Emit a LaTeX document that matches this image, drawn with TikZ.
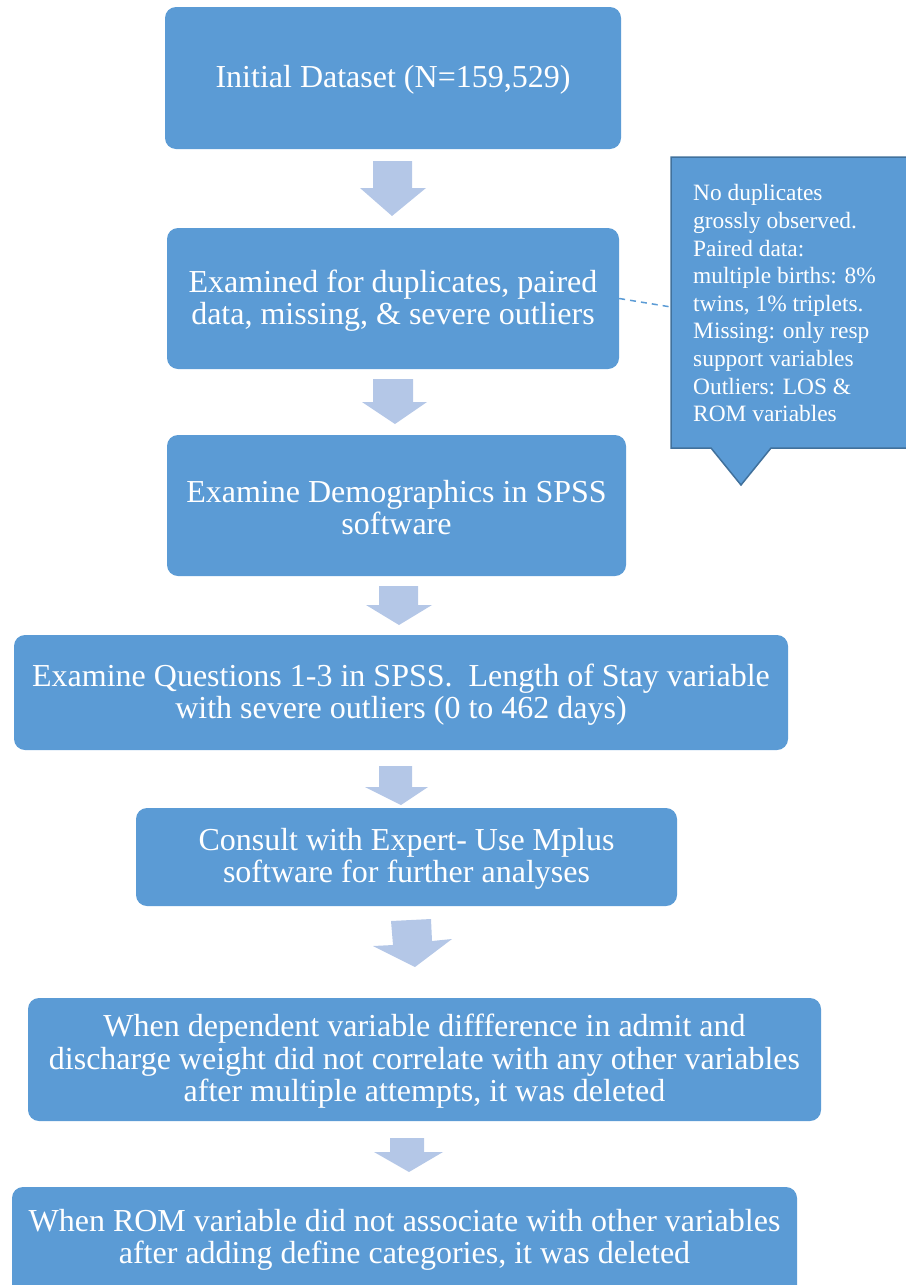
\documentclass[tikz,border=0pt]{standalone}
\usepackage{fontspec}
\setmainfont{Liberation Serif}
\definecolor{boxblue}{HTML}{5B9BD5}
\definecolor{arrowblue}{HTML}{B4C7E7}
\definecolor{edgeblue}{HTML}{41719C}
\begin{document}
\begin{tikzpicture}[x=1pt,y=-1pt,
  flowbox/.style={fill=boxblue, draw=none, rounded corners=11pt, inner sep=0pt},
  flowtext/.style={text=white, align=center, inner sep=0pt, yshift=-2pt,
    font=\fontsize{32}{32.5}\selectfont},
  blockarrow/.style={fill=arrowblue, draw=none},
  calloutshape/.style={fill=boxblue, draw=edgeblue, line width=1.5pt},
  leader/.style={draw=boxblue, line width=1.5pt, dash pattern=on 6pt off 5pt}]
\useasboundingbox (0,0) rectangle (905,1285);

% boxes
\node[flowbox, minimum width=456pt, minimum height=142pt] (b1) at (393,78) {};
\node[flowtext] (t1) at (b1.center) {Initial Dataset (N=159,529)};
\node[flowbox, minimum width=452pt, minimum height=141pt] (b2) at (393,298.5) {};
\node[flowtext] (t2) at (b2.center) {Examined for duplicates, paired\\data, missing, \& severe outliers};
\node[flowbox, minimum width=459pt, minimum height=141pt] (b3) at (396.5,505.5) {};
\node[flowtext] (t3) at (b3.center) {Examine Demographics in SPSS\\software};
\node[flowbox, minimum width=774pt, minimum height=115pt] (b4) at (401,692.5) {};
\node[flowtext] (t4) at (b4.center) {Examine Questions 1-3 in SPSS.\ \ Length of Stay variable\\with severe outliers (0 to 462 days)};
\node[flowbox, minimum width=541pt, minimum height=98pt] (b5) at (406.5,857) {};
\node[flowtext] (t5) at (b5.center) {Consult with Expert- Use Mplus\\software for further analyses};
\node[flowbox, minimum width=793pt, minimum height=123pt] (b6) at (424.5,1059.5) {};
\node[flowtext] (t6) at (b6.center) {When dependent variable diffference in admit and\\discharge weight did not correlate with any other variables\\after multiple attempts, it was deleted};
\node[flowbox, minimum width=785pt, minimum height=110pt] (b7) at (404.5,1242) {};
\node[flowtext] (t7) at (404.5,1238) {When ROM variable did not associate with other variables\\after adding define categories, it was deleted};

% block arrows
\fill[blockarrow] (373,161) -- (412,161) -- (412,188) -- (426,188) -- (392,216) -- (360,188) -- (373,188) -- cycle;
\fill[blockarrow] (373,379) -- (413,379) -- (413,402) -- (427,402) -- (395,424) -- (362,402) -- (373,402) -- cycle;
\fill[blockarrow] (379,586) -- (418,586) -- (418,605) -- (432,605) -- (399,625) -- (366,605) -- (379,605) -- cycle;
\fill[blockarrow] (379,766) -- (412,766) -- (412,787) -- (428,787) -- (401,805) -- (365,787) -- (379,787) -- cycle;
\fill[blockarrow] (391,921) -- (431,919) -- (432,941) -- (452,939) -- (415,967) -- (373,946) -- (393,945) -- cycle;
\fill[blockarrow] (390,1138) -- (424,1138) -- (424,1152) -- (443,1152) -- (409,1172) -- (374,1152) -- (390,1152) -- cycle;

% callout
\draw[calloutshape] (671,157) -- (912,157) -- (912,448) -- (771,448) -- (741,485) -- (711,448) -- (671,448) -- cycle;
\node[text=white, align=left, anchor=north west, inner sep=0pt,
  font=\fontsize{23.4}{27.6}\selectfont] (note) at (693,184.5)
  {No duplicates\\grossly observed.\\Paired data:\\multiple births: 8\%\\twins, 1\% triplets.\\Missing: only resp\\support variables\\Outliers: LOS \&\\ROM variables};
\coordinate (noteleft) at (671,307);
\draw[leader] (b2.east) -- (noteleft);
\end{tikzpicture}
\end{document}
